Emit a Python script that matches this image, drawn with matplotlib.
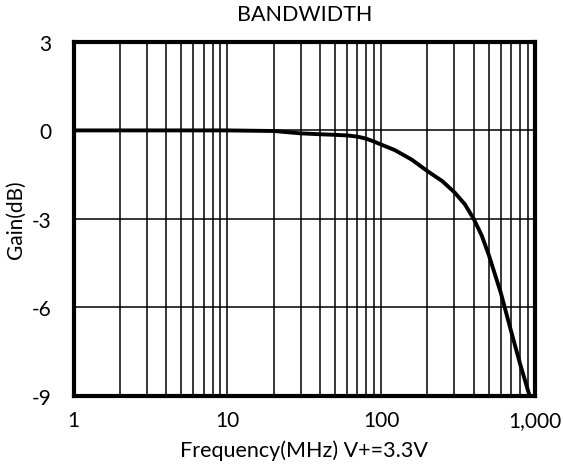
import matplotlib
matplotlib.use('Agg')
import matplotlib.pyplot as plt
from matplotlib.ticker import FixedLocator, LogLocator, NullFormatter

plt.rcParams['font.family'] = ['Lato', 'DejaVu Sans']
plt.rcParams['axes.unicode_minus'] = False

# Datos
freq_mhz = [1, 10, 20, 30, 40, 50, 60, 70, 80, 90, 100, 123, 158, 200, 250,
            300, 350, 400, 450, 500, 600, 700, 800, 900, 925]
gain_db = [0, 0, -0.02, -0.1, -0.13, -0.15, -0.17, -0.21, -0.28, -0.38,
           -0.48, -0.67, -0.99, -1.38, -1.72, -2.1, -2.5, -3.0, -3.55, -4.2,
           -5.5, -6.8, -7.9, -8.8, -9.0]

x_ticks = [1, 10, 100, 1000]
x_labels = ['1', '10', '100', '1,000']
y_ticks = [3, 0, -3, -6, -9]
y_labels = ['3', '0', '-3', '-6', '-9']

fig = plt.figure(figsize=(5.63, 4.77), dpi=100)
ax = fig.add_axes([0.131, 0.168, 0.819, 0.742])

ax.plot(freq_mhz, gain_db, color='black', linewidth=2.8, zorder=3,
        solid_joinstyle='round')

ax.set_xscale('log')
ax.set_xlim(1, 1000)
ax.set_ylim(-9, 3)

ax.xaxis.set_major_locator(FixedLocator(x_ticks))
ax.set_xticklabels(x_labels)
ax.xaxis.set_minor_locator(LogLocator(base=10, subs=range(2, 10)))
ax.xaxis.set_minor_formatter(NullFormatter())
ax.set_yticks(y_ticks)
ax.set_yticklabels(y_labels)

ax.grid(True, which='both', axis='x', color='black', linewidth=1.1)
ax.grid(True, which='major', axis='y', color='black', linewidth=1.1)
ax.tick_params(which='both', length=0, labelsize=15)
ax.tick_params(axis='x', pad=10)
ax.tick_params(axis='y', pad=16)

for s in ax.spines.values():
    s.set_linewidth(3)

ax.set_title('BANDWIDTH', fontsize=15.5, pad=16)
ax.set_xlabel('Frequency(MHz) V+=3.3V', fontsize=15.5, labelpad=7)
ax.set_ylabel('Gain(dB)', fontsize=15, labelpad=4)

plt.savefig('out.png', dpi=100)
